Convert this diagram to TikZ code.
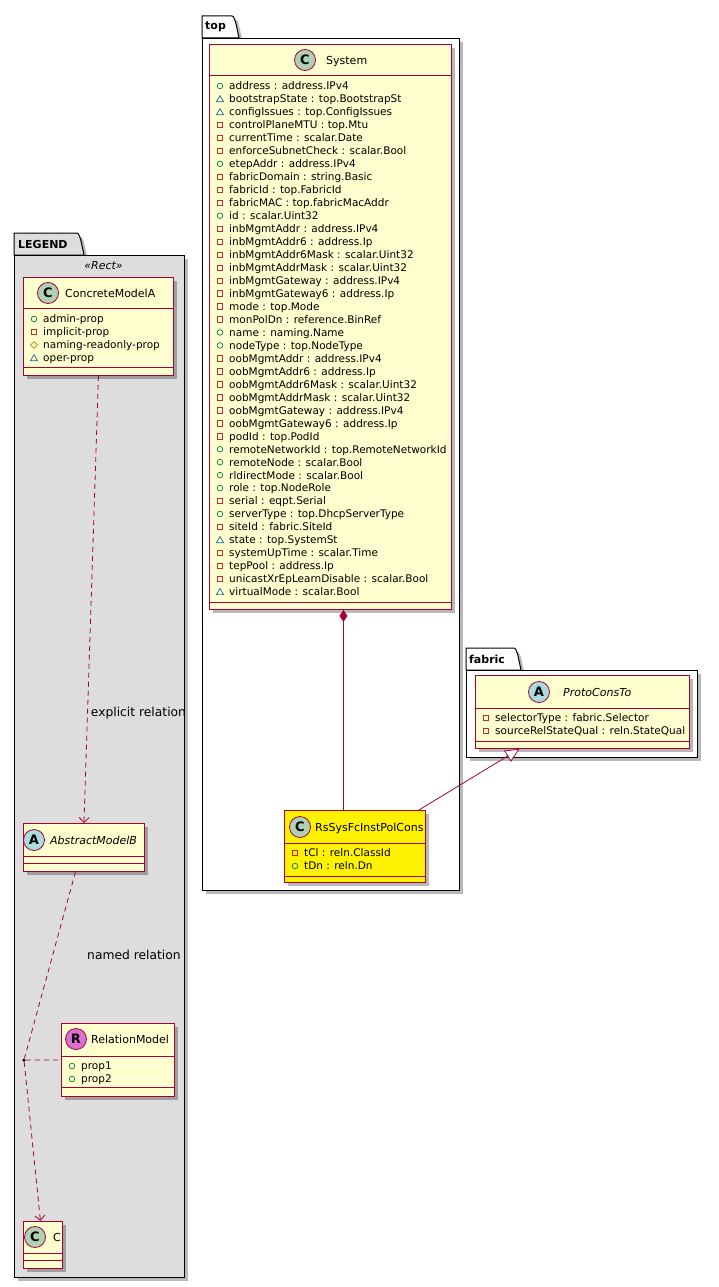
\documentclass[tikz,border=0pt]{standalone}
\usepackage{fontspec}
\setmainfont{DejaVu Sans}
\usetikzlibrary{arrows.meta,shadows,calc}
\definecolor{clsfill}{HTML}{FEFECE}
\definecolor{clsline}{HTML}{A80036}
\definecolor{cgreen}{HTML}{ADD1B2}
\definecolor{acyan}{HTML}{A9DCDF}
\definecolor{rorchid}{HTML}{DA70D6}
\definecolor{pubc}{HTML}{038048}
\definecolor{privc}{HTML}{C82930}
\definecolor{protc}{HTML}{B38D22}
\definecolor{pkgc}{HTML}{1963A0}
\definecolor{legfill}{HTML}{DDDDDD}
\tikzset{
  shd/.style={drop shadow={shadow xshift=3.5pt,shadow yshift=-3.5pt,opacity=0.28,fill=black}},
  clsbox/.style={draw=clsline, line width=0.9pt, rectangle, inner sep=0pt, anchor=north west, shd},
  sepl/.style={draw=clsline, line width=0.9pt},
  circ/.style={circle, draw=clsline, line width=0.8pt, minimum size=21pt, inner sep=0pt, font=\fontsize{13}{13}\selectfont\bfseries},
  nm/.style={inner sep=0pt, font=\fontsize{11}{13}\selectfont},
  attr/.style={inner sep=0pt, anchor=base west, font=\fontsize{10.5}{12}\selectfont},
  pkgbox/.style={draw=black, line width=1pt, rectangle, inner sep=0pt, anchor=north west, shd},
  pkgtab/.style={draw=black, line width=1pt, shd},
  pkgname/.style={inner sep=0pt, anchor=west, font=\fontsize{11}{13}\selectfont\bfseries},
  rel/.style={draw=clsline, line width=0.8pt},
  dsh/.style={dash pattern=on 5pt off 4pt},
  lbl/.style={inner sep=0pt, font=\fontsize{12.3}{14}\selectfont},
  icl/.style={line width=0.7pt}
}
\newcommand\icpub[2]{\draw[icl,pubc] (#1,#2) circle (2.8pt);}
\newcommand\icpriv[2]{\draw[icl,privc] (#1-2.7,#2-2.7) rectangle (#1+2.7,#2+2.7);}
\newcommand\icprot[2]{\draw[icl,protc] (#1-3.3,#2) -- (#1,#2-3.3) -- (#1+3.3,#2) -- (#1,#2+3.3) -- cycle;}
\newcommand\icpkg[2]{\draw[icl,pkgc] (#1-3.6,#2+2.8) -- (#1,#2-3.4) -- (#1+3.6,#2+2.8) -- cycle;}
% #1 name, #2 x1, #3 y1, #4 x2, #5 y2, #6 sep1, #7 sep2, #8 fill
\newcommand\umlbox[8]{%
  \node[clsbox, fill=#8, minimum width={(#4-#2)*1pt}, minimum height={(#5-#3)*1pt}] (#1) at (#2,#3) {};
  \draw[sepl] (#2,#6) -- (#4,#6);
  \draw[sepl] (#2,#7) -- (#4,#7);
}
% #1 name, #2 cx, #3 cy, #4 colour, #5 letter, #6 text x, #7 text
\newcommand\umlhead[7]{%
  \node[circ, fill=#4] (#1c) at (#2,#3) {#5};
  \node[nm, anchor=base west] (#1n) at (#6,#3+4.2) {#7};
}
% #1 prefix, #2 box left, #3 first y, #4 step, #5 list
\newcommand\attrs[5]{%
  \foreach[count=\i] \k/\s in {#5}{%
    \pgfmathsetmacro\yy{#3+(\i-1)*#4}
    \csname ic\k\endcsname{#2+11}{\yy}
    \node[attr] (#1\i) at (#2+20,\yy+3.9) {\s};
  }%
}
\begin{document}
\begin{tikzpicture}[x=1pt,y=-1pt]
\useasboundingbox (0,0) rectangle (718,1287);
\fill[white] (0,0) rectangle (718,1287);

% ---------------- packages ----------------
% LEGEND
\filldraw[pkgtab, fill=legfill] (14,255) -- (14,233) -- (77,233) .. controls (80,233) and (82,246) .. (84,255) -- cycle;
\node[pkgbox, fill=legfill, minimum width=170pt, minimum height=1022pt] (legend) at (14,255) {};
\node[pkgname] (legendn) at (18,244) {LEGEND};
\node[inner sep=0pt, font=\fontsize{11}{13}\selectfont\itshape] (rect) at (103.5,266) {«Rect»};

% top
\filldraw[pkgtab, fill=white] (202,38) -- (202,16) -- (232,16) .. controls (235,16) and (237,29) .. (239,38) -- cycle;
\node[pkgbox, fill=white, minimum width=257pt, minimum height=852pt] (top) at (202,38) {};
\node[pkgname] (topn) at (205,27) {top};

% fabric
\filldraw[pkgtab, fill=white] (466,670) -- (466,648) -- (514,648) .. controls (517,648) and (519,661) .. (521,670) -- cycle;
\node[pkgbox, fill=white, minimum width=231pt, minimum height=87pt] (fabric) at (466,670) {};
\node[pkgname] (fabricn) at (469,659) {fabric};

% ---------------- classes ----------------
% System
\umlbox{sys}{209}{44}{451}{609}{75}{602}{clsfill}
\umlhead{sys}{305}{60}{cgreen}{C}{326}{System}
\attrs{sysa}{209}{86}{12.97}{pub/address : address.IPv4,
pkg/bootstrapState : top.BootstrapSt,
pkg/configIssues : top.ConfigIssues,
priv/controlPlaneMTU : top.Mtu,
priv/currentTime : scalar.Date,
priv/enforceSubnetCheck : scalar.Bool,
pub/etepAddr : address.IPv4,
priv/fabricDomain : string.Basic,
priv/fabricId : top.FabricId,
priv/fabricMAC : top.fabricMacAddr,
pub/id : scalar.Uint32,
priv/inbMgmtAddr : address.IPv4,
priv/inbMgmtAddr6 : address.Ip,
priv/inbMgmtAddr6Mask : scalar.Uint32,
priv/inbMgmtAddrMask : scalar.Uint32,
priv/inbMgmtGateway : address.IPv4,
priv/inbMgmtGateway6 : address.Ip,
priv/mode : top.Mode,
priv/monPolDn : reference.BinRef,
pub/name : naming.Name,
pub/nodeType : top.NodeType,
priv/oobMgmtAddr : address.IPv4,
priv/oobMgmtAddr6 : address.Ip,
priv/oobMgmtAddr6Mask : scalar.Uint32,
priv/oobMgmtAddrMask : scalar.Uint32,
priv/oobMgmtGateway : address.IPv4,
priv/oobMgmtGateway6 : address.Ip,
priv/podId : top.PodId,
pub/remoteNetworkId : top.RemoteNetworkId,
pub/remoteNode : scalar.Bool,
pub/rldirectMode : scalar.Bool,
pub/role : top.NodeRole,
priv/serial : eqpt.Serial,
pub/serverType : top.DhcpServerType,
priv/siteId : fabric.SiteId,
pkg/state : top.SystemSt,
priv/systemUpTime : scalar.Time,
priv/tepPool : address.Ip,
priv/unicastXrEpLearnDisable : scalar.Bool,
pkg/virtualMode : scalar.Bool}

% RsSysFcInstPolCons
\umlbox{rs}{284}{810}{425}{882}{843}{876}{yellow}
\umlhead{rs}{300}{827}{cgreen}{C}{315}{RsSysFcInstPolCons}
\attrs{rsa}{284}{853}{13}{priv/tCl : reln.ClassId, pub/tDn : reln.Dn}

% ProtoConsTo
\umlbox{pct}{475}{675}{689}{748}{708}{741}{clsfill}
\umlhead{pct}{539}{692}{acyan}{A}{563}{\itshape ProtoConsTo}
\attrs{pcta}{475}{718}{13}{priv/selectorType : fabric.Selector, priv/sourceRelStateQual : reln.StateQual}

% ConcreteModelA
\umlbox{cma}{23}{277}{173}{375}{308}{367}{clsfill}
\umlhead{cma}{48}{293}{cgreen}{C}{65}{ConcreteModelA}
\attrs{cmaa}{23}{319}{13}{pub/admin-prop, priv/implicit-prop, prot/naming-readonly-prop, pkg/oper-prop}

% AbstractModelB
\umlbox{amb}{23}{823}{144}{871}{856}{863}{clsfill}
\umlhead{amb}{34}{840}{acyan}{A}{50}{\itshape AbstractModelB}

% RelationModel
\umlbox{relm}{61}{1023}{174}{1096}{1056}{1087}{clsfill}
\umlhead{relm}{76}{1039}{rorchid}{R}{91}{RelationModel}
\attrs{relma}{61}{1066}{13}{pub/prop1, pub/prop2}

% C
\umlbox{cc}{23}{1221}{62}{1268}{1253}{1260}{clsfill}
\umlhead{cc}{35}{1237}{cgreen}{C}{53}{C}

% ---------------- connectors ----------------
\draw[rel, {Diamond[length=12pt,width=8pt,fill=clsline]}-] ([xshift=13pt]sys.south) -- ([xshift=-11.5pt]rs.north);
\draw[rel, -{Triangle[open,length=14pt,width=13pt,fill=white]}] ([xshift=-7pt]rs.north east) -- ([xshift=-63pt]pct.south);
\draw[rel, dsh, -{Straight Barb[length=5pt,width=10pt]}] (cma.south) -- (amb.north)
  node[lbl, pos=0.754, anchor=west, xshift=3pt] (lbl1) {explicit relation};
\node[circle, fill=black, inner sep=0pt, minimum size=3.5pt] (dot) at (24,1060) {};
\draw[rel, dsh] ([xshift=-8.5pt]amb.south) -- (dot)
  node[lbl, pos=0.444, anchor=west, xshift=34pt] (lbl2) {named relation};
\draw[rel, dsh, -{Straight Barb[length=5pt,width=10pt]}] (dot) -- ([xshift=-2.5pt]cc.north);
\draw[rel, dsh] (dot) -- (relm.west);
\end{tikzpicture}
\end{document}
